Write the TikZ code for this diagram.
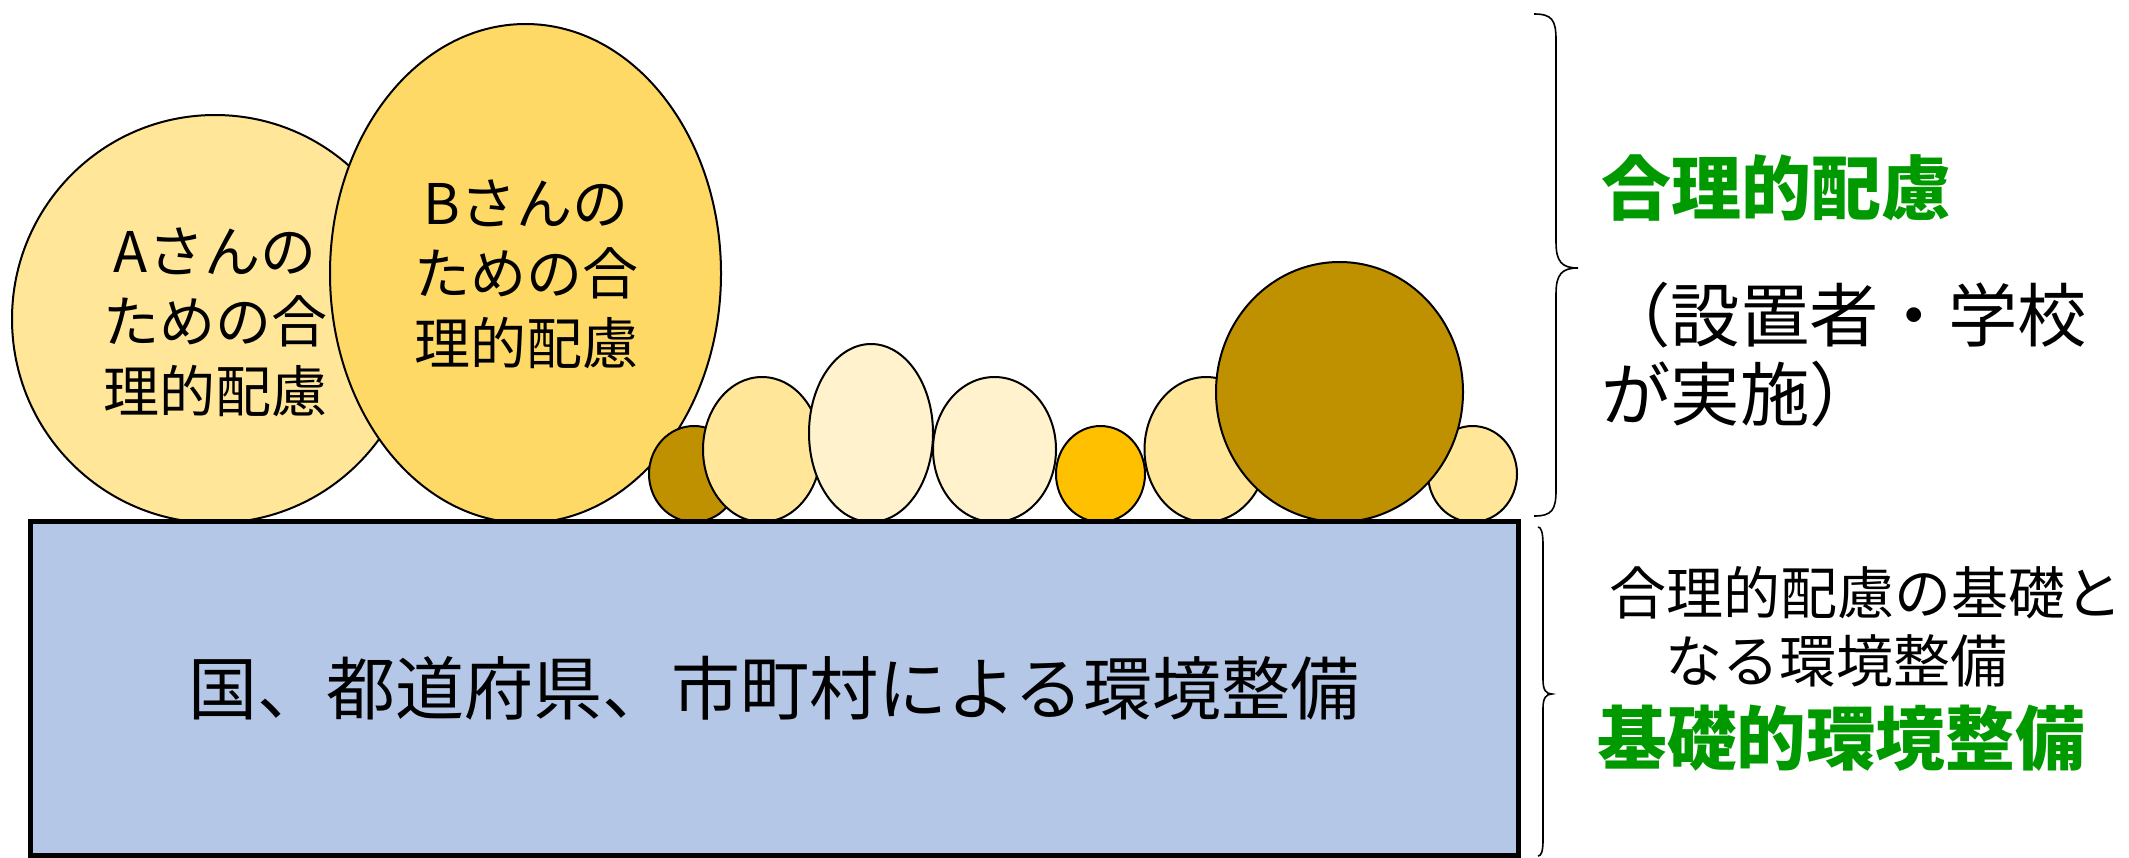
\documentclass[tikz,border=0pt]{standalone}
\usepackage{fontspec}
\newfontfamily\jp{Noto Sans CJK JP}
\usetikzlibrary{shapes.geometric}
\definecolor{barblue}{HTML}{B4C7E7}
\definecolor{eggA}{HTML}{FFE699}
\definecolor{eggB}{HTML}{FFD966}
\definecolor{eggdark}{HTML}{BF9000}
\definecolor{eggpale}{HTML}{FFF2CC}
\definecolor{eggorange}{HTML}{FFC000}
\definecolor{jpgreen}{HTML}{009900}
\begin{document}
\begin{tikzpicture}[x=0.5pt,y=-0.5pt,
  egg/.style={ellipse, draw=black, line width=1pt, inner sep=0pt},
  eggtext/.style={font=\jp\fontsize{28pt}{35pt}\selectfont, align=center},
  sidetext/.style={anchor=west, inner sep=0pt, align=left},
  bracepath/.style={draw=black, line width=0.8pt}]
\useasboundingbox (0,0) rectangle (2129,857);

% ellipses
\node[egg, fill=eggA, minimum width=203pt, minimum height=204pt] (ea) at (215,319) {};
\node[egg, fill=eggB, minimum width=195.5pt, minimum height=249.5pt] (eb) at (525.5,273.5) {};
\node[eggtext] (ta) at (215,322) {Aさんの\\ための合\\理的配慮};
\node[eggtext] (tb) at (526,274) {Bさんの\\ための合\\理的配慮};
\node[egg, fill=eggdark, minimum width=45pt, minimum height=48pt] (s1) at (694,474) {};
\node[egg, fill=eggA, minimum width=59pt, minimum height=72.5pt] (e2) at (762,449.5) {};
\node[egg, fill=eggpale, minimum width=62pt, minimum height=89pt] (e3) at (871,433) {};
\node[egg, fill=eggpale, minimum width=61.5pt, minimum height=72.5pt] (e4) at (994.5,449.5) {};
\node[egg, fill=eggorange, minimum width=44.5pt, minimum height=48pt] (eo) at (1100.5,474) {};
\node[egg, fill=eggA, minimum width=61.5pt, minimum height=72.5pt] (e6) at (1206,449.5) {};
\node[egg, fill=eggA, minimum width=44.5pt, minimum height=48pt] (s2) at (1472.5,474) {};
\node[egg, fill=eggdark, minimum width=123.5pt, minimum height=130pt] (big) at (1339.5,392) {};

% base bar
\node[draw=black, line width=2.5pt, fill=barblue, minimum width=744pt, minimum height=167pt,
      inner sep=0pt, font=\jp\fontsize{34.5pt}{40pt}\selectfont] (bar) at (774,688) {国、都道府県、市町村による環境整備};

% braces
\draw[bracepath] (1534,14) .. controls (1552,14) and (1556,20) .. (1556,40)
  -- (1556,242) .. controls (1556,262) and (1562,268) .. (1578,268)
  .. controls (1562,268) and (1556,274) .. (1556,294)
  -- (1556,490) .. controls (1556,510) and (1552,516) .. (1534,516);
\draw[bracepath] (1538,527) .. controls (1541,527) and (1543,532) .. (1543,545)
  -- (1543,680) .. controls (1543,690) and (1546,694) .. (1552,694)
  .. controls (1546,694) and (1543,698) .. (1543,708)
  -- (1543,840) .. controls (1543,852) and (1541,856) .. (1538,856);

% side texts
\node[sidetext, text=jpgreen, font=\jp\bfseries\fontsize{35pt}{40pt}\selectfont] (t1) at (1601,188) {合理的配慮};
\node[sidetext, font=\jp\fontsize{34.7pt}{39.5pt}\selectfont] (t2) at (1601,355) {（設置者・学校\\が実施）};
\node[sidetext, font=\jp\fontsize{28.5pt}{34pt}\selectfont] (t3) at (1609,593) {合理的配慮の基礎と};
\node[sidetext, font=\jp\fontsize{28.5pt}{34pt}\selectfont] (t4) at (1665,661) {なる環境整備};
\node[sidetext, text=jpgreen, font=\jp\bfseries\fontsize{34.8pt}{40pt}\selectfont] (t5) at (1597,738) {基礎的環境整備};
\end{tikzpicture}
\end{document}
